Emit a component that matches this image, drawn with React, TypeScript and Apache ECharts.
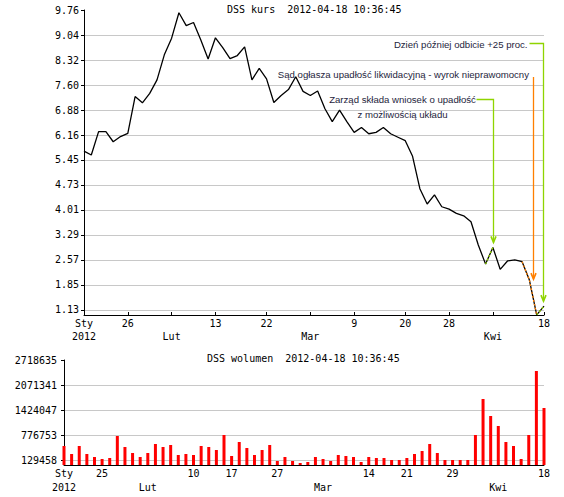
import React, { useEffect, useRef } from 'react';
import * as echarts from 'echarts';

// ---- Data ----
const tradingDays = [
  '2012-01-18', '2012-01-19', '2012-01-20', '2012-01-23', '2012-01-24', '2012-01-25', '2012-01-26', '2012-01-27', '2012-01-30', '2012-01-31',
  '2012-02-01', '2012-02-02', '2012-02-03', '2012-02-06', '2012-02-07', '2012-02-08', '2012-02-09', '2012-02-10', '2012-02-13', '2012-02-14',
  '2012-02-15', '2012-02-16', '2012-02-17', '2012-02-20', '2012-02-21', '2012-02-22', '2012-02-23', '2012-02-24', '2012-02-27', '2012-02-28',
  '2012-02-29', '2012-03-01', '2012-03-02', '2012-03-05', '2012-03-06', '2012-03-07', '2012-03-08', '2012-03-09', '2012-03-12', '2012-03-13',
  '2012-03-14', '2012-03-15', '2012-03-16', '2012-03-19', '2012-03-20', '2012-03-21', '2012-03-22', '2012-03-23', '2012-03-26', '2012-03-27',
  '2012-03-28', '2012-03-29', '2012-03-30', '2012-04-02', '2012-04-03', '2012-04-04', '2012-04-05', '2012-04-10', '2012-04-11', '2012-04-12',
  '2012-04-13', '2012-04-16', '2012-04-17', '2012-04-18',
];

const closePrices = [
  5.70, 5.59, 6.26, 6.26, 5.97, 6.12, 6.21, 7.27, 7.09, 7.36,
  7.75, 8.47, 8.95, 9.68, 9.31, 9.40, 8.90, 8.35, 8.96, 8.68,
  8.36, 8.45, 8.70, 7.75, 8.08, 7.78, 7.10, 7.30, 7.47, 7.84,
  7.42, 7.30, 7.43, 6.92, 6.55, 6.88, 6.55, 6.24, 6.38, 6.20,
  6.24, 6.38, 6.20, 6.10, 6.00, 5.55, 4.62, 4.18, 4.44, 4.10,
  4.03, 3.91, 3.84, 3.67, 3.00, 2.45, 2.93, 2.30, 2.54, 2.57,
  2.52, 1.99, 0.99, 1.24,
];

const volumes = [
  492000, 285000, 492000, 285000, 207000, 155000, 181000, 751000, 466000, 311000,
  207000, 311000, 544000, 466000, 518000, 259000, 285000, 259000, 492000, 466000,
  388000, 777000, 233000, 596000, 440000, 259000, 388000, 518000, 104000, 207000,
  104000, 52000, 78000, 207000, 155000, 104000, 259000, 233000, 207000, 78000,
  207000, 181000, 181000, 129000, 129000, 181000, 285000, 362000, 544000, 311000,
  129000, 129000, 129000, 129000, 777000, 1709000, 1269000, 1010000, 596000, 492000,
  155000, 777000, 2434000, 1476000,
];

const priceTickLabels = ['1.13', '1.85', '2.57', '3.29', '4.01', '4.73', '5.45', '6.16', '6.88', '7.60', '8.32', '9.04', '9.76'];
const volumeTickLabels = ['129458', '776753', '1424047', '2071341', '2718635'];

const priceDateIdx = [0, 6, 12, 18, 25, 31, 37, 44, 50, 56, 63];
const priceDateText = ['Sty\n2012', '26', '\nLut', '13', '22', '\nMar', '9', '20', '28', '\nKwi', '18'];
const volumeDateIdx = [0, 5, 11, 17, 22, 28, 34, 40, 45, 51, 57, 63];
const volumeDateText = ['Sty\n2012', '25', '\nLut', '10', '17', '27', '\nMar', '14', '21', '29', '\nKwi', '18'];

const priceTitle = 'DSS kurs  2012-04-18 10:36:45';
const volumeTitle = 'DSS wolumen  2012-04-18 10:36:45';

const eventTexts = [
  'Zarząd składa wniosek o upadłość\nz możliwością układu',
  'Sąd ogłasza upadłość likwidacyjną - wyrok nieprawomocny',
  'Dzień później odbicie +25 proc.',
];
// highlighted price segments [from, to] per event
const eventSegments = [[55, 56], [60, 62], [62, 63]];

const GREEN = '#8fd400';
const ORANGE = '#ff7f00';
const GRID = '#c8c8c8';
const MONO = '"DejaVu Sans Mono", monospace';
const SANS = '"Liberation Sans", Arial, sans-serif';

export default function App() {
  const ref = useRef<HTMLDivElement>(null);

  useEffect(() => {
    if (!ref.current) return;
    const chart = echarts.init(ref.current, null, { renderer: 'svg' });

    const priceVals = priceTickLabels.map(Number);
    const volVals = volumeTickLabels.map(Number);
    const priceMap = new Map<number, string>();
    priceDateIdx.forEach((d, k) => priceMap.set(d, priceDateText[k]));
    const volMap = new Map<number, string>();
    volumeDateIdx.forEach((d, k) => volMap.set(d, volumeDateText[k]));

    const seg = (from: number, to: number) =>
      closePrices.map((v, i) => (i >= from && i <= to ? v : '-'));

    const splitColors = (n: number) => {
      const arr: string[] = [];
      for (let i = 0; i < n - 1; i++) arr.push(GRID);
      arr.push('rgba(0,0,0,0)');
      return arr;
    };

    const labelStyle = { fontFamily: MONO, fontSize: 10, color: '#000' };

    const xAxisBase = (map: Map<number, string>, gridIndex: number, lh: number) => ({
      type: 'category',
      gridIndex,
      data: tradingDays,
      boundaryGap: false,
      axisLine: { show: true, lineStyle: { color: '#000', width: 1 } },
      axisTick: {
        show: true,
        inside: true,
        length: 3,
        interval: (i: number) => map.has(i),
        lineStyle: { color: '#000' },
      },
      axisLabel: {
        ...labelStyle,
        interval: (i: number) => map.has(i),
        formatter: (_v: string, i: number) => map.get(i) ?? '',
        lineHeight: lh,
        margin: 2,
      },
      splitLine: { show: false },
    });

    chart.setOption({
      animation: false,
      backgroundColor: '#ffffff',
      title: [
        {
          text: priceTitle,
          left: 227,
          top: 4,
          padding: 0,
          textStyle: { fontFamily: MONO, fontSize: 10, fontWeight: 'normal', color: '#000' },
        },
        {
          text: volumeTitle,
          left: 207,
          top: 353,
          padding: 0,
          textStyle: { fontFamily: MONO, fontSize: 10, fontWeight: 'normal', color: '#000' },
        },
      ],
      grid: [
        { left: 84, top: 10, width: 460, height: 305 },
        { left: 64, top: 360, width: 480, height: 105 },
      ],
      xAxis: [xAxisBase(priceMap, 0, 13), xAxisBase(volMap, 1, 13.5)],
      yAxis: [
        {
          type: 'value',
          gridIndex: 0,
          min: 0.986,
          max: 9.76,
          axisLine: { show: true, lineStyle: { color: '#000', width: 1 } },
          axisTick: { show: true, customValues: priceVals, length: 3, lineStyle: { color: '#000' } },
          axisLabel: {
            ...labelStyle,
            customValues: priceVals,
            margin: 5,
            formatter: (v: number) => priceTickLabels[priceVals.indexOf(v)] ?? String(v),
          },
          splitLine: { show: true, lineStyle: { color: splitColors(priceVals.length), width: 1 } },
        },
        {
          type: 'value',
          gridIndex: 1,
          min: 0,
          max: volVals[volVals.length - 1],
          axisLine: { show: true, lineStyle: { color: '#000', width: 1 } },
          axisTick: { show: true, customValues: volVals, length: 3, lineStyle: { color: '#000' } },
          axisLabel: {
            ...labelStyle,
            customValues: volVals,
            margin: 7,
            formatter: (v: number) => volumeTickLabels[volVals.indexOf(v)] ?? String(v),
          },
          splitLine: { show: true, lineStyle: { color: splitColors(volVals.length), width: 1 } },
        },
      ],
      series: [
        {
          type: 'line',
          xAxisIndex: 0,
          yAxisIndex: 0,
          data: closePrices,
          symbol: 'none',
          lineStyle: { color: '#000', width: 1.3 },
          z: 3,
        },
        ...eventSegments.map((s, k) => ({
          type: 'line',
          xAxisIndex: 0,
          yAxisIndex: 0,
          data: seg(s[0], s[1]),
          symbol: 'none',
          lineStyle: { color: k === 1 ? ORANGE : GREEN, width: 1.3, type: [2, 2] },
          z: 4,
        })),
        {
          type: 'bar',
          xAxisIndex: 1,
          yAxisIndex: 1,
          data: volumes,
          barWidth: 3,
          itemStyle: { color: '#ff0000' },
        },
      ],
    });

    // annotations positioned through the chart's own scales
    const px = (i: number) =>
      chart.convertToPixel({ xAxisIndex: 0, yAxisIndex: 0 }, [i, closePrices[i]]) as number[];

    const textStyle = (text: string, x: number, y: number, align: string) => ({
      text,
      x,
      y,
      fill: '#1e1e3c',
      fontFamily: SANS,
      fontSize: 9.6,
      lineHeight: 14.7,
      align,
      textAlign: align,
      verticalAlign: 'middle',
      textVerticalAlign: 'middle',
    });

    const arrow = (x: number, tip: number, color: string) => ({
      type: 'polyline',
      silent: true,
      shape: { points: [[x - 2.5, tip - 6], [x, tip], [x + 2.5, tip - 6]] },
      style: { stroke: color, lineWidth: 1.6, fill: null },
      z: 10,
    });
    const conn = (pts: number[][], color: string) => ({
      type: 'polyline',
      silent: true,
      shape: { points: pts },
      style: { stroke: color, lineWidth: 1.3, fill: null },
      z: 10,
    });

    // event 1
    const p1 = px(eventSegments[0][1]);
    const a1x = Math.round(p1[0]) + 0.5;
    const t1 = p1[1] - 5;
    // event 2
    const p2a = px(eventSegments[1][1] - 1);
    const p2b = px(eventSegments[1][1]);
    const a2x = Math.round((p2a[0] + p2b[0]) / 2) + 0.5;
    const t2 = p2a[1] - 1;
    // event 3
    const p3 = px(eventSegments[2][1]);
    const a3x = Math.round(p3[0]) - 0.5;
    const t3 = p3[1] - 5;

    chart.setOption({
      graphic: [
        { type: 'text', silent: true, z: 10, style: textStyle(eventTexts[0], a1x - 91, 107, 'center') },
        conn([[a1x - 17, 99.5], [a1x, 99.5], [a1x, t1]], GREEN),
        arrow(a1x, t1, GREEN),

        { type: 'text', silent: true, z: 10, style: textStyle(eventTexts[1], a2x - 4.5, 74, 'right') },
        conn([[a2x, 77], [a2x, t2]], ORANGE),
        arrow(a2x, t2, ORANGE),

        { type: 'text', silent: true, z: 10, style: textStyle(eventTexts[2], a3x - 16, 44.5, 'right') },
        conn([[a3x - 14, 43.5], [a3x, 43.5], [a3x, t3]], GREEN),
        arrow(a3x, t3, GREEN),
      ],
    });

    return () => chart.dispose();
  }, []);

  return (
    <div
      ref={ref}
      style={{ position: 'absolute', left: 0, top: 0, width: 564, height: 497, background: '#fff' }}
    />
  );
}
